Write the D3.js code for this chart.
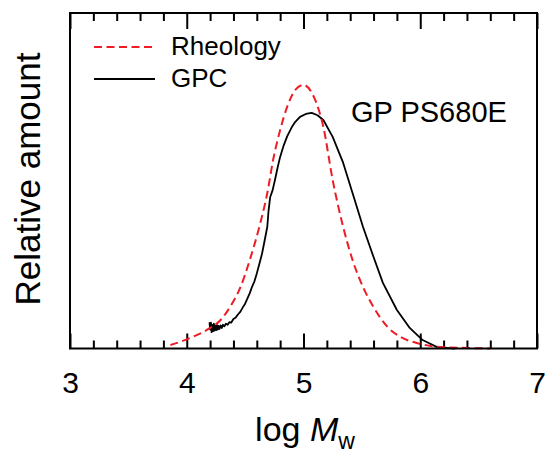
<!DOCTYPE html>
<html>
<head>
<meta charset="utf-8">
<script src="https://cdn.jsdelivr.net/npm/d3@7"></script>
<style>
  body { margin: 0; background: #fff; }
  svg { font-family: "Liberation Sans", Arial, sans-serif; }
</style>
</head>
<body>
<svg id="chart" width="545" height="453"></svg>
<script>
// log Mw, relative amount
const rheologyLogM = [3.86, 4.03, 4.20, 4.29, 4.37, 4.46, 4.54, 4.63, 4.69, 4.74, 4.80, 4.86, 4.93, 5.00, 5.10, 5.17, 5.25, 5.34, 5.42, 5.51, 5.60, 5.72, 5.83, 5.97, 6.17, 6.40, 6.60];
const rheologyVal  = [0.013, 0.040, 0.078, 0.108, 0.157, 0.233, 0.336, 0.476, 0.590, 0.716, 0.829, 0.917, 0.981, 1.000, 0.943, 0.841, 0.639, 0.461, 0.336, 0.233, 0.157, 0.082, 0.044, 0.021, 0.006, 0.002, 0.0];

// GPC trace, noisy at the low-mass end
const gpcLogM = [4.195, 4.200, 4.207, 4.213, 4.220, 4.226, 4.232, 4.238, 4.245, 4.252, 4.258, 4.265, 4.272, 4.280, 4.290, 4.300, 4.310, 4.322, 4.335, 4.350, 4.365, 4.380, 4.400, 4.420, 4.440, 4.460, 4.480, 4.500, 4.520, 4.540, 4.560, 4.580, 4.600, 4.620, 4.645, 4.665, 4.690, 4.700, 4.715, 4.735, 4.756, 4.780, 4.800, 4.830, 4.860, 4.900, 4.930, 4.970, 5.020, 5.070, 5.120, 5.170, 5.250, 5.340, 5.420, 5.510, 5.600, 5.680, 5.800, 5.910, 6.020, 6.140, 6.230, 6.300];
const gpcVal  = [0.100, 0.072, 0.098, 0.062, 0.090, 0.066, 0.094, 0.068, 0.088, 0.070, 0.090, 0.072, 0.086, 0.074, 0.088, 0.078, 0.090, 0.084, 0.094, 0.090, 0.100, 0.098, 0.112, 0.118, 0.130, 0.140, 0.156, 0.170, 0.190, 0.210, 0.235, 0.255, 0.285, 0.318, 0.360, 0.405, 0.462, 0.520, 0.575, 0.600, 0.640, 0.690, 0.727, 0.770, 0.805, 0.840, 0.860, 0.879, 0.890, 0.894, 0.885, 0.867, 0.803, 0.704, 0.590, 0.461, 0.347, 0.249, 0.146, 0.078, 0.032, 0.006, 0.002, 0.0];

const majorTicks = [3, 4, 5, 6, 7];
const minorTicks = d3.range(3.2, 7, 0.2).filter(v => Math.abs(v - Math.round(v)) > 0.01);

const svg = d3.select("#chart");
const plot = {left: 70, right: 537, top: 13, bottom: 348.5};

const x = d3.scaleLinear().domain([3, 7]).range([plot.left, plot.right]);
const y = d3.scaleLinear().domain([0, 1.273]).range([plot.bottom, plot.top]);

// ticks (inward, top and bottom)
const bottomMajor = svg.append("g")
    .attr("transform", `translate(0,${plot.bottom})`)
    .call(d3.axisBottom(x).tickValues(majorTicks).tickSize(-15).tickPadding(23).tickFormat(d3.format("d")));
const bottomMinor = svg.append("g")
    .attr("transform", `translate(0,${plot.bottom})`)
    .call(d3.axisBottom(x).tickValues(minorTicks).tickSize(-8).tickFormat(""));
const topMajor = svg.append("g")
    .attr("transform", `translate(0,${plot.top})`)
    .call(d3.axisTop(x).tickValues(majorTicks).tickSize(-16).tickFormat(""));
const topMinor = svg.append("g")
    .attr("transform", `translate(0,${plot.top})`)
    .call(d3.axisTop(x).tickValues(minorTicks).tickSize(-8).tickFormat(""));

[bottomMajor, bottomMinor, topMajor, topMinor].forEach(g => {
    g.select(".domain").remove();
    g.selectAll(".tick line").attr("stroke", "#000").attr("stroke-width", 2);
});
bottomMajor.selectAll(".tick text")
    .attr("font-size", 30)
    .attr("font-family", "Liberation Sans, Arial, sans-serif")
    .attr("fill", "#000");

// curves
const smooth = d3.line()
    .x(d => x(d[0]))
    .y(d => y(d[1]))
    .curve(d3.curveMonotoneX);
const raw = d3.line()
    .x(d => x(d[0]))
    .y(d => y(d[1]));

svg.append("path")
    .datum(d3.zip(gpcLogM, gpcVal))
    .attr("d", raw)
    .attr("fill", "none")
    .attr("stroke", "#000")
    .attr("stroke-width", 1.8)
    .attr("stroke-linejoin", "round");

svg.append("path")
    .datum(d3.zip(rheologyLogM, rheologyVal))
    .attr("d", smooth)
    .attr("fill", "none")
    .attr("stroke", "#ee1c25")
    .attr("stroke-width", 2)
    .attr("stroke-dasharray", "8,4.5");

// frame
svg.append("rect")
    .attr("x", plot.left).attr("y", plot.top)
    .attr("width", plot.right - plot.left).attr("height", plot.bottom - plot.top)
    .attr("fill", "none")
    .attr("stroke", "#000")
    .attr("stroke-width", 2);

// legend
const legend = [
    {name: "Rheology", color: "#ee1c25", dash: "8,4.5", width: 2, y: 47},
    {name: "GPC", color: "#000", dash: null, width: 1.8, y: 79}
];
legend.forEach(d => {
    svg.append("line")
        .attr("x1", 94).attr("x2", 155)
        .attr("y1", d.y).attr("y2", d.y)
        .attr("stroke", d.color)
        .attr("stroke-width", d.width)
        .attr("stroke-dasharray", d.dash);
    svg.append("text")
        .attr("x", 171).attr("y", d.y + 8)
        .attr("font-size", 26)
        .text(d.name);
});

svg.append("text")
    .attr("x", 351).attr("y", 122)
    .attr("font-size", 29)
    .text("GP PS680E");

// axis titles
const xlab = svg.append("text")
    .attr("x", 305).attr("y", 441)
    .attr("text-anchor", "middle")
    .attr("font-size", 34);
xlab.append("tspan").text("log ");
xlab.append("tspan").attr("font-style", "italic").text("M");
xlab.append("tspan").attr("font-size", 23).attr("dy", 8).text("w");

svg.append("text")
    .attr("transform", "translate(40,179) rotate(-90)")
    .attr("text-anchor", "middle")
    .attr("font-size", 35)
    .text("Relative amount");
</script>
</body>
</html>
